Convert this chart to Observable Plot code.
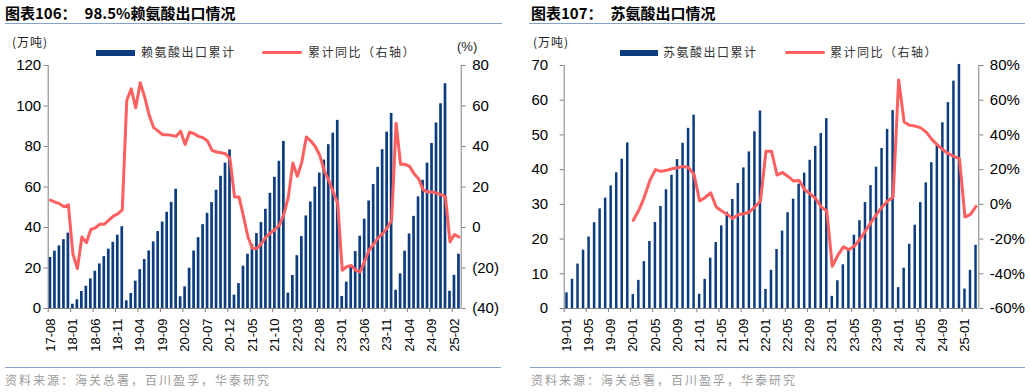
<!DOCTYPE html>
<html><head><meta charset="utf-8">
<script src="https://cdn.jsdelivr.net/npm/d3@7"></script>
<script src="https://cdn.jsdelivr.net/npm/@observablehq/plot@0.6"></script>
<style>
body{margin:0;background:#fff;width:1030px;height:392px;overflow:hidden;font-family:"Noto Sans CJK SC",sans-serif;}
.panel{position:absolute;top:0;width:515px;height:392px;}
.title{position:absolute;top:4px;font-size:15px;font-weight:bold;line-height:17px;color:#000;white-space:nowrap;}
.rule{position:absolute;height:1.4px;background:#86A2C4;}
.unit{position:absolute;top:35px;font-size:12px;line-height:14px;letter-spacing:1px;color:#222;white-space:nowrap}
.pct{position:absolute;top:40px;font-size:13px;line-height:14px;color:#222;font-family:"Liberation Sans",Arial,sans-serif}
.leg{position:absolute;font-size:12px;line-height:14px;top:45px;letter-spacing:1.5px;color:#333;white-space:nowrap}
.sw-bar{position:absolute;top:50px;height:6px;background:#0B3C80}
.sw-line{position:absolute;top:51px;height:3px;background:#FF5F5F;border-radius:1.5px}
.foot{position:absolute;top:373px;font-size:12px;line-height:14px;letter-spacing:2px;color:#9a9a9a;white-space:nowrap}
.chart{position:absolute;top:56px;left:0}
</style></head>
<body>
<div class="panel" id="p1" style="left:0">
  <div class="title" style="left:5px">图表106：<span style="margin-left:8px">98.5%赖氨酸出口情况</span></div>
  <div class="rule" style="left:5px;top:23px;width:497px"></div>
  <div class="unit" style="left:12px">(万吨)</div>
  <div class="sw-bar" style="left:96px;width:39px"></div>
  <div class="leg" style="left:141px">赖氨酸出口累计</div>
  <div class="sw-line" style="left:262px;width:40px"></div>
  <div class="leg" style="left:308px">累计同比（右轴）</div>
  <div class="pct" style="left:457px">(%)</div>
  <div class="chart" id="c1"></div>
  <div class="rule" style="left:5px;top:367px;width:496px;height:1px"></div>
  <div class="foot" style="left:5px">资料来源：海关总署，百川盈孚，华泰研究</div>
</div>
<div class="panel" id="p2" style="left:515px">
  <div class="title" style="left:16px">图表107：<span style="margin-left:8px">苏氨酸出口情况</span></div>
  <div class="rule" style="left:14px;top:23px;width:496px"></div>
  <div class="unit" style="left:18px">(万吨)</div>
  <div class="sw-bar" style="left:105px;width:38px"></div>
  <div class="leg" style="left:148px">苏氨酸出口累计</div>
  <div class="sw-line" style="left:270px;width:40px"></div>
  <div class="leg" style="left:315px">累计同比（右轴）</div>
  <div class="chart" id="c2"></div>
  <div class="rule" style="left:15px;top:367px;width:495px;height:1px"></div>
  <div class="foot" style="left:16px">资料来源：海关总署，百川盈孚，华泰研究</div>
</div>
<script>
function monthRange(start, count) {
  let [y, m] = start.split("-").map(Number);
  const out = [];
  for (let i = 0; i < count; i++) {
    out.push(String(y % 100).padStart(2, "0") + "-" + String(m).padStart(2, "0"));
    m++; if (m > 12) { m = 1; y++; }
  }
  return out;
}

// ---- 赖氨酸 (Lysine 98.5%) ----
const lysMonths = monthRange("2017-08", 92);
const lysExport = [
  25.2, 28.3, 30.9, 34.0, 37.2,
  2.1, 4.3, 8.4, 11.0, 14.6, 18.4, 22.0, 25.6, 29.3, 32.7, 36.2, 40.4,
  3.8, 7.4, 13.5, 19.2, 24.2, 28.4, 32.9, 38.0, 42.7, 47.5, 52.4, 58.9,
  5.8, 10.7, 19.9, 28.4, 35.0, 41.4, 47.0, 52.3, 58.4, 65.3, 71.8, 78.3,
  6.6, 12.3, 20.9, 26.8, 31.5, 37.0, 42.4, 49.0, 56.9, 64.8, 72.7, 82.5,
  7.6, 16.3, 26.1, 35.5, 45.7, 52.6, 60.0, 66.9, 73.3, 80.9, 86.6, 92.9,
  5.9, 13.0, 20.5, 28.1, 35.7, 44.1, 53.1, 61.2, 69.7, 78.4, 87.1, 96.3,
  9.0, 17.1, 28.3, 36.8, 45.5, 55.1, 63.3, 71.8, 81.5, 91.6, 101.1, 111.0,
  8.5, 16.4, 26.8
];
const lysYoY = [
  13.5, 12.5, 11.8, 10.2, 11.2,
  -13, -20.3, -4.7, -7.5, -1, -0.2, 1.6, 1.6, 3.6, 5.6, 6.7, 8.7,
  62.7, 68.5, 59.1, 71.5, 64.4, 55.4, 49.3, 47.6, 45.8, 45.8, 45.5, 45.0,
  47.6, 41, 47.1, 46.3, 45, 44.3, 42.7, 38.1, 37.3, 36.9, 36.4, 34.0,
  15.1, 15.1, 5.5, -4.7, -10.4, -10.4, -7.9, -4.7, -2.7, -1, 1.1, 6.5,
  15.1, 31.9, 25.3, 32.3, 44.7, 42.7, 40, 35.6, 27.9, 23.3, 17.5, 11.8,
  -21.1, -19.4, -18.8, -21.1, -21.9, -16.6, -11.1, -8.2, -5.1, -3, -0.2, 3.6,
  51.5, 31.2, 31.2, 30.2, 26.6, 24.1, 18.7, 17.5, 17.5, 17, 16.2, 15.1,
  -7.1, -3.5, -4.7
];
const lysTickLabels = ["17-08","18-01","18-06","18-11","19-04","19-09","20-02","20-07","20-12","21-05","21-10","22-03","22-08","23-01","23-06","23-11","24-04","24-09","25-02"];
const lysLeftTicks = [0, 20, 40, 60, 80, 100, 120];
const lysRightTicks = [-40, -20, 0, 20, 40, 60, 80];

// ---- 苏氨酸 (Threonine) ----
const thrMonths = monthRange("2019-01", 75);
const thrExport = [
  4.5, 8.4, 12.8, 16.8, 20.6, 24.7, 28.7, 31.8, 35.3, 39.1, 43.0, 47.7,
  4.0, 8.1, 13.5, 19.3, 24.8, 29.4, 34.2, 38.4, 42.9, 47.6, 51.9, 55.7,
  4.1, 8.4, 14.5, 19.0, 23.8, 27.7, 31.4, 36.0, 40.5, 45.1, 50.9, 56.9,
  5.5, 11.0, 17.0, 22.3, 27.6, 31.5, 35.8, 39.0, 42.7, 46.7, 50.4, 54.7,
  3.5, 8.0, 12.6, 16.8, 21.1, 25.3, 30.5, 35.4, 40.7, 46.1, 51.6, 57.0,
  6.0, 11.6, 18.5, 24.0, 30.5, 36.2, 42.0, 46.9, 53.5, 59.3, 65.5, 70.3,
  5.6, 11.0, 18.2
];
const thrYoY = [
  null, null, null, null, null, null, null, null, null, null, null, null,
  -9.2, -3.4, 4.2, 13.8, 20, 19, 19.6, 20.5, 21.1, 21.9, 21.1, 17.1,
  1.9, 3.9, 6.7, -1.5, -3.8, -5.8, -8.2, -5.9, -5.4, -4.4, -1.5, 1.9,
  30.6, 30.6, 16.9, 18.4, 16.1, 13.4, 13.8, 8.4, 6.1, 3.3, -1.5, -3.8,
  -35.7, -29.3, -24.5, -26.1, -24, -20.1, -15.3, -10.4, -5.8, -1.5, 1.9, 4.2,
  71.7, 47.4, 45.5, 45.1, 44.1, 41.6, 37.4, 34.3, 31.5, 29.2, 27.6, 26.3,
  -7.3, -5.8, -1.2
];
const thrTickLabels = ["19-01","19-05","19-09","20-01","20-05","20-09","21-01","21-05","21-09","22-01","22-05","22-09","23-01","23-05","23-09","24-01","24-05","24-09","25-01"];
const thrLeftTicks = [0, 10, 20, 30, 40, 50, 60, 70];
const thrRightTicks = [-60, -40, -20, 0, 20, 40, 60, 80];

const BAR = "#0B3C80", LINE = "#FF5F5F", AXIS = "#7f7f7f";

function dualChart(o) {
  const data = o.months.map((m, i) => ({m, v: o.bars[i], r: o.yoy[i]}));
  const lineData = data.filter(d => d.r != null);
  const W = 515;
  const step = (W - o.marginLeft - o.marginRight) / o.months.length;
  return Plot.plot({
    width: W, height: 304,
    marginTop: 9, marginBottom: 52, marginLeft: o.marginLeft, marginRight: o.marginRight,
    style: {fontFamily: "'Liberation Sans', Arial, sans-serif", background: "transparent", color: "#000", overflow: "visible"},
    x: {type: "band", domain: o.months, paddingInner: o.pad, paddingOuter: o.pad / 2},
    y: {domain: o.yDomain},
    marks: [
      Plot.barY(data, {x: "m", y: "v", fill: BAR}),
      Plot.ruleY([0], {stroke: AXIS}),
      Plot.ruleX([o.months[0]], {dx: -step / 2, stroke: AXIS}),
      Plot.ruleX([o.months[o.months.length - 1]], {dx: step / 2, stroke: AXIS}),
      Plot.lineY(lineData, {x: "m", y: d => o.toL(d.r), stroke: LINE, strokeWidth: 3, strokeLinejoin: "round"}),
      Plot.axisX(o.ticks, {tickSize: 4, tickFormat: () => "", dx: -step / 2, stroke: AXIS, label: null}),
      Plot.axisX(o.ticks, {tickSize: 0, tickPadding: 10, tickRotate: -90, fontSize: 13, label: null, fill: "#000"}),
      Plot.axisY(o.leftTicks, {anchor: "left", tickSize: 4, tickPadding: o.leftPad, fontSize: 15, label: null, stroke: AXIS, fill: "#000"}),
      Plot.axisY(o.rightTicks.map(o.toL), {anchor: "right", tickSize: 4, tickPadding: 7, fontSize: 15, label: null, stroke: AXIS, fill: "#000", tickFormat: o.rFormat})
    ]
  });
}

document.getElementById("c1").append(dualChart({
  months: lysMonths, bars: lysExport, yoy: lysYoY, ticks: lysTickLabels,
  leftTicks: lysLeftTicks, rightTicks: lysRightTicks, yDomain: [0, 120],
  toL: r => r + 40,
  rFormat: L => { const r = Math.round(L - 40); return r < 0 ? `(${-r})` : `${r}`; },
  marginLeft: 47.7, marginRight: 54.3, pad: 0.4, leftPad: 3
}));

document.getElementById("c2").append(dualChart({
  months: thrMonths, bars: thrExport, yoy: thrYoY, ticks: thrTickLabels,
  leftTicks: thrLeftTicks, rightTicks: thrRightTicks, yDomain: [0, 70],
  toL: r => (r + 60) / 2,
  rFormat: L => `${Math.round(L * 2 - 60)}%`,
  marginLeft: 48.7, marginRight: 51.7, pad: 0.55, leftPad: 12
}));
</script>
</body></html>
